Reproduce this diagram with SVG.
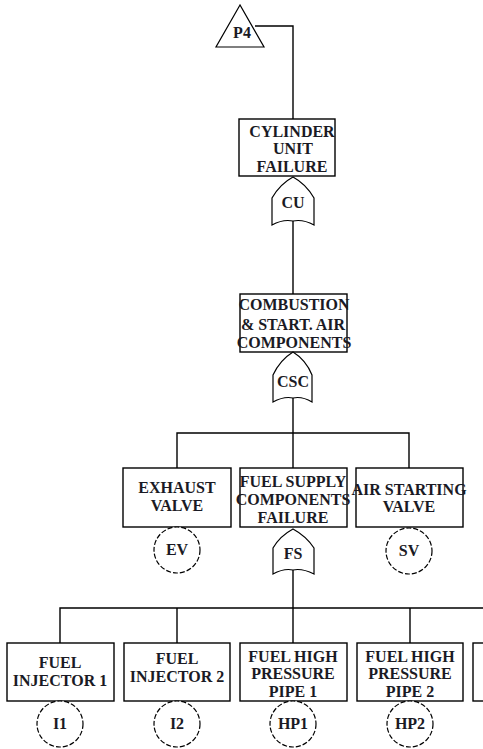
<svg xmlns="http://www.w3.org/2000/svg" width="483" height="749" viewBox="0 0 483 749">
<style>
.box{fill:#fff;stroke:#000;stroke-width:1.4}
.gate{fill:#fff;stroke:#000;stroke-width:1.2}
.circ{fill:#fff;stroke:#000;stroke-width:1.2;stroke-dasharray:5 2}
.ln{fill:none;stroke:#000;stroke-width:1.4}
text{font-family:"Liberation Serif","Times New Roman",serif;font-weight:bold;font-size:16px;fill:#1a1a24;text-anchor:middle}
</style>
<rect width="483" height="749" fill="#fff"/>
<g id="connectors">
<polyline class="ln" points="255,26 293,26 293,119"/>
<line class="ln" x1="293" y1="221" x2="293" y2="294"/>
<line class="ln" x1="293" y1="398" x2="293" y2="433"/>
<polyline class="ln" points="177,468 177,433 409,433 409,468"/>
<line class="ln" x1="293" y1="433" x2="293" y2="468"/>
<line class="ln" x1="293" y1="570" x2="293" y2="643"/>
<polyline class="ln" points="60,643 60,608 483,608"/>
<line class="ln" x1="177" y1="608" x2="177" y2="643"/>
<line class="ln" x1="410" y1="608" x2="410" y2="643"/>
</g>
<g id="P4">
<polygon class="gate" points="240,5 216,47 264,47"/>
<text x="242" y="38">P4</text>
</g>
<g id="CU_box">
<rect class="box" x="239" y="119" width="96" height="57"/>
<text x="292" y="137" font-size="15.5">CYLINDER</text>
<text x="293" y="154">UNIT</text>
<text x="292" y="172">FAILURE</text>
</g>
<g id="CU">
<path class="gate" d="M293,177 Q280,184 272,198 L272,225 Q283,219 293,221 Q303,219 314,225 L314,198 Q306,184 293,177 Z"/>
<text x="293" y="208">CU</text>
</g>
<g id="CSC_box">
<rect class="box" x="240" y="294" width="107" height="58"/>
<text x="294" y="310">COMBUSTION</text>
<text x="293" y="330">&amp; START. AIR</text>
<text x="294" y="348">COMPONENTS</text>
</g>
<g id="CSC">
<path class="gate" d="M293,352 Q280,360 273,375 L273,402 Q284,396 293,398 Q302,396 312,402 L312,375 Q306,360 293,352 Z"/>
<text x="293" y="387">CSC</text>
</g>
<g id="EV_box">
<rect class="box" x="123" y="468" width="108" height="59"/>
<text x="177" y="493">EXHAUST</text>
<text x="177" y="511">VALVE</text>
</g>
<g id="EV">
<circle class="circ" cx="177" cy="550" r="23"/>
<text x="177" y="555">EV</text>
</g>
<g id="FS_box">
<rect class="box" x="240" y="468" width="107" height="59"/>
<text x="293" y="487">FUEL SUPPLY</text>
<text x="293" y="505">COMPONENTS</text>
<text x="293" y="523">FAILURE</text>
</g>
<g id="FS">
<path class="gate" d="M293,529 Q280,536 273,548 L273,574 Q284,568 293,570 Q302,568 314,574 L314,548 Q306,536 293,529 Z"/>
<text x="293" y="559">FS</text>
</g>
<g id="SV_box">
<rect class="box" x="356" y="468" width="107" height="59"/>
<text x="409" y="495">AIR STARTING</text>
<text x="409" y="512">VALVE</text>
</g>
<g id="SV">
<circle class="circ" cx="409" cy="551" r="23"/>
<text x="409" y="556">SV</text>
</g>
<g id="I1_box">
<rect class="box" x="7" y="643" width="107" height="58"/>
<text x="60" y="668">FUEL</text>
<text x="60" y="686">INJECTOR 1</text>
</g>
<g id="I1">
<circle class="circ" cx="60" cy="724" r="23"/>
<text x="60" y="729">I1</text>
</g>
<g id="I2_box">
<rect class="box" x="124" y="643" width="106" height="58"/>
<text x="177" y="664">FUEL</text>
<text x="177" y="682">INJECTOR 2</text>
</g>
<g id="I2">
<circle class="circ" cx="177" cy="724" r="23"/>
<text x="177" y="729">I2</text>
</g>
<g id="HP1_box">
<rect class="box" x="240" y="643" width="107" height="58"/>
<text x="293" y="662">FUEL HIGH</text>
<text x="293" y="679">PRESSURE</text>
<text x="293" y="697">PIPE 1</text>
</g>
<g id="HP1">
<circle class="circ" cx="293" cy="724" r="23"/>
<text x="293" y="729">HP1</text>
</g>
<g id="HP2_box">
<rect class="box" x="357" y="643" width="106" height="58"/>
<text x="410" y="662">FUEL HIGH</text>
<text x="410" y="679">PRESSURE</text>
<text x="410" y="697">PIPE 2</text>
</g>
<g id="HP2">
<circle class="circ" cx="410" cy="724" r="23"/>
<text x="410" y="729">HP2</text>
</g>
<g id="partial_box">
<rect class="box" x="473" y="643" width="40" height="58"/>
</g>
</svg>
